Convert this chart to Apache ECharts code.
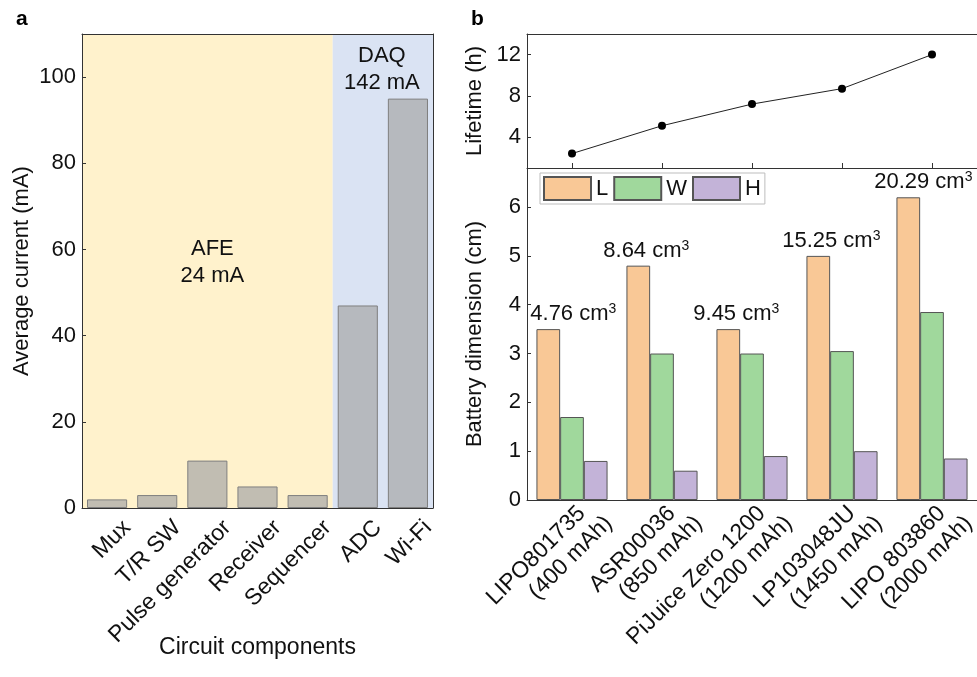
<!DOCTYPE html>
<html>
<head>
<meta charset="utf-8">
<title>Power budget and battery options</title>
<script src="https://cdn.jsdelivr.net/npm/echarts@6/dist/echarts.min.js"></script>
<style>
  html, body { margin: 0; padding: 0; background: #ffffff; }
  #chart { width: 977px; height: 677px; }
</style>
</head>
<body>
<div id="chart"></div>
<script>
// Panel a: average current drawn by each circuit block
const components = ['Mux', 'T/R SW', 'Pulse generator', 'Receiver', 'Sequencer', 'ADC', 'Wi-Fi'];
const avgCurrent = [2, 3, 11, 5, 3, 47, 95];
const afeCount = 5; // first five blocks belong to the analog front end
const currentTicks = [0, 20, 40, 60, 80, 100];

// Panel b: candidate batteries
const batteryModels = ['LIPO801735', 'ASR00036', 'PiJuice Zero 1200', 'LP103048JU', 'LIPO 803860'];
const batteryCapacity = ['400 mAh', '850 mAh', '1200 mAh', '1450 mAh', '2000 mAh'];
const lifetime = [2.4, 5.1, 7.2, 8.7, 12.0];
const lifetimeTicks = [4, 8, 12];
const dimL = [3.5, 4.8, 3.5, 5.0, 6.2];
const dimW = [1.7, 3.0, 3.0, 3.05, 3.85];
const dimH = [0.8, 0.6, 0.9, 1.0, 0.85];
const volumes = ['4.76', '8.64', '9.45', '15.25', '20.29'];
const dimensionTicks = [0, 1, 2, 3, 4, 5, 6];

// horizontal nudge of each volume label (px)
const volumeLabelShift = [25, 8, 8, 13, 15];

const FONT = 'Liberation Sans, Arial, Helvetica, sans-serif';
const AXIS = '#333333';
const TXT = '#111111';

const afeTotal = avgCurrent.slice(0, afeCount).reduce((a, b) => a + b, 0);
const daqTotal = avgCurrent.slice(afeCount).reduce((a, b) => a + b, 0);
const batteryNames = batteryModels.map((m, i) => m + '|' + batteryCapacity[i]);

const chart = echarts.init(document.getElementById('chart'), null, { renderer: 'canvas' });

const borderAxis = (gridIndex, position, type, extra) => Object.assign({
  gridIndex, position, type,
  axisLine: { show: true, onZero: false, lineStyle: { color: AXIS, width: 1 } },
  axisTick: { show: false }, axisLabel: { show: false }, splitLine: { show: false },
  z: 5
}, extra || {});

const valueAxis = (gridIndex, min, max, ticks, name, nameGap) => ({
  gridIndex, type: 'value', min, max,
  axisLine: { show: true, onZero: false, lineStyle: { color: AXIS, width: 1 } },
  axisTick: { show: true, inside: true, length: 4, customValues: ticks, lineStyle: { color: AXIS } },
  axisLabel: { fontSize: 22, color: TXT, margin: 6, customValues: ticks, fontFamily: FONT },
  splitLine: { show: false },
  name, nameLocation: 'middle', nameGap,
  nameTextStyle: { fontSize: 22, color: TXT, fontFamily: FONT },
  z: 5
});

const option = {
  backgroundColor: '#ffffff',
  animation: false,
  textStyle: { fontFamily: FONT },
  title: [
    { text: 'a', left: 11, top: 4, textStyle: { fontSize: 21, fontWeight: 'bold', color: '#000', fontFamily: FONT } },
    { text: 'b', left: 466, top: 4, textStyle: { fontSize: 21, fontWeight: 'bold', color: '#000', fontFamily: FONT } }
  ],
  legend: {
    data: ['L', 'W', 'H'],
    left: 540, top: 173,
    icon: 'rect',
    itemWidth: 47, itemHeight: 23, itemGap: 5,
    borderColor: '#bdbdbd', borderWidth: 1, padding: [3, 4, 3, 3],
    textStyle: { fontSize: 22, color: TXT, fontFamily: FONT },
    selectedMode: false
  },
  grid: [
    { left: 82, top: 34, width: 351, height: 474, outerBoundsMode: 'none', containLabel: false },
    { left: 527, top: 34, width: 450, height: 134, outerBoundsMode: 'none', containLabel: false },
    { left: 527, top: 168, width: 450, height: 332, outerBoundsMode: 'none', containLabel: false }
  ],
  xAxis: [
    {
      gridIndex: 0, type: 'category', data: components, position: 'bottom',
      axisLine: { onZero: false, lineStyle: { color: AXIS, width: 1 } },
      axisTick: { show: false },
      axisLabel: {
        rotate: 45, fontSize: 23, lineHeight: 27, color: TXT, fontFamily: FONT, interval: 0,
        margin: -4, verticalAlign: 'top', padding: [15, 0, 0, 0]
      },
      name: 'Circuit components', nameLocation: 'middle', nameGap: 128, nameMoveOverlap: false,
      nameTextStyle: { fontSize: 23, color: TXT, fontFamily: FONT, verticalAlign: 'top' },
      z: 5
    },
    borderAxis(0, 'top', 'value', { min: -0.5, max: components.length - 0.5 }),
    {
      gridIndex: 1, type: 'category', data: batteryNames, position: 'bottom',
      axisLine: { onZero: false, lineStyle: { color: AXIS, width: 1 } },
      axisTick: { show: true, inside: true, alignWithLabel: true, interval: 0, length: 5, lineStyle: { color: AXIS } },
      axisLabel: { show: false, interval: 0 },
      z: 5
    },
    borderAxis(1, 'top', 'category', { data: batteryNames }),
    {
      gridIndex: 2, type: 'category', data: batteryNames, position: 'bottom',
      axisLine: { onZero: false, lineStyle: { color: AXIS, width: 1 } },
      axisTick: { show: false },
      axisLabel: {
        rotate: 45, interval: 0, color: TXT, fontFamily: FONT,
        margin: -17, verticalAlign: 'top', padding: [13, 0, 0, 0],
        formatter: v => {
          const p = v.split('|');
          return '{m|' + p[0] + '}\n{c|(' + p[1] + ')}';
        },
        rich: {
          m: { fontSize: 23, lineHeight: 26, color: TXT, fontFamily: FONT, padding: [0, 12, 0, 0] },
          c: { fontSize: 23, lineHeight: 26, color: TXT, fontFamily: FONT }
        }
      },
      z: 5
    }
  ],
  yAxis: [
    valueAxis(0, 0, 110, currentTicks, 'Average current (mA)', 49),
    borderAxis(0, 'right', 'value', { min: 0, max: 110 }),
    valueAxis(1, 1, 14, lifetimeTicks, 'Lifetime (h)', 41),
    valueAxis(2, 0, 6.8, dimensionTicks, 'Battery dimension (cm)', 41)
  ],
  series: [
    {
      // shaded AFE / DAQ regions behind the current bars
      type: 'line', xAxisIndex: 1, yAxisIndex: 0, data: [], silent: true, z: 1,
      markArea: {
        silent: true,
        label: {
          show: true, color: TXT, fontSize: 22, lineHeight: 27, fontFamily: FONT,
          align: 'center', verticalAlign: 'middle'
        },
        data: [
          [
            { name: 'AFE\n' + afeTotal + ' mA', xAxis: -0.5, yAxis: 0,
              itemStyle: { color: '#FFF2CC' }, label: { position: ['52%', '48.2%'] } },
            { xAxis: afeCount - 0.5, yAxis: 110 }
          ],
          [
            { name: 'DAQ\n' + daqTotal + ' mA', xAxis: afeCount - 0.5, yAxis: 0,
              itemStyle: { color: '#DAE3F3' }, label: { position: ['49%', '7.4%'] } },
            { xAxis: components.length - 0.5, yAxis: 110 }
          ]
        ]
      }
    },
    {
      name: 'Average current', type: 'bar', xAxisIndex: 0, yAxisIndex: 0,
      data: avgCurrent, barCategoryGap: '20%', z: 2,
      itemStyle: { color: 'rgba(166,166,166,0.7)', borderColor: '#7f7f7f', borderWidth: 1 }
    },
    {
      name: 'Lifetime', type: 'line', xAxisIndex: 2, yAxisIndex: 2,
      data: lifetime, symbol: 'circle', symbolSize: 8,
      itemStyle: { color: '#000000' },
      lineStyle: { color: '#222222', width: 1 }
    },
    {
      name: 'L', type: 'bar', xAxisIndex: 4, yAxisIndex: 3,
      barGap: '0%', barCategoryGap: '21%',
      data: dimL.map((v, i) => ({ value: v, label: { offset: [volumeLabelShift[i], 0] } })),
      itemStyle: { color: '#F9C896', borderColor: '#555555', borderWidth: 1 },
      label: {
        show: true, position: 'top', distance: 3,
        formatter: p => '{n|' + volumes[p.dataIndex] + ' cm}{s|3}',
        rich: {
          n: { fontSize: 22, lineHeight: 24, color: TXT, fontFamily: FONT },
          s: { fontSize: 14, lineHeight: 14, color: TXT, fontFamily: FONT, verticalAlign: 'top' }
        }
      }
    },
    {
      name: 'W', type: 'bar', xAxisIndex: 4, yAxisIndex: 3,
      barGap: '0%', barCategoryGap: '21%', data: dimW,
      itemStyle: { color: '#A0D89C', borderColor: '#555555', borderWidth: 1 }
    },
    {
      name: 'H', type: 'bar', xAxisIndex: 4, yAxisIndex: 3,
      barGap: '0%', barCategoryGap: '21%', data: dimH,
      itemStyle: { color: '#C3B3D8', borderColor: '#555555', borderWidth: 1 }
    }
  ]
};

chart.setOption(option);
</script>
</body>
</html>
